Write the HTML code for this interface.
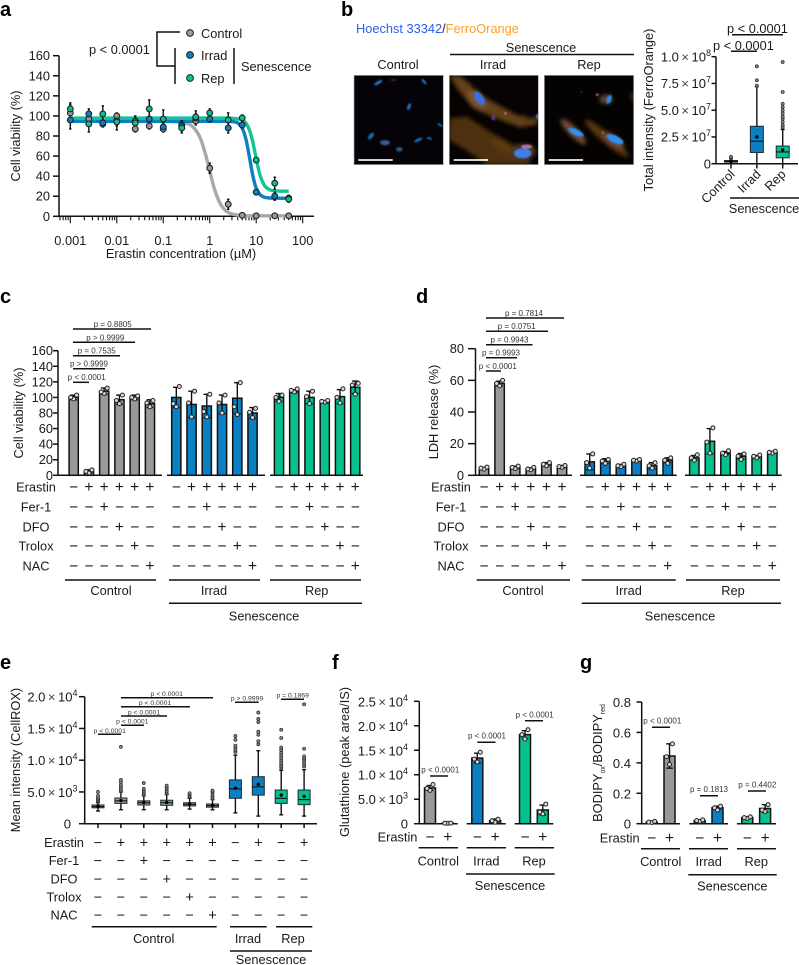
<!DOCTYPE html>
<html lang="en">
<head>
<meta charset="utf-8">
<title>Senescence ferroptosis figure</title>
<style>
html,body{margin:0;padding:0;background:#fff;}
svg{display:block;font-family:"Liberation Sans",Arial,sans-serif;}
text{fill:#1a1a1a;font-size:12.8px;}
.m{text-anchor:middle;}
.p{font-size:8px;fill:#333;text-anchor:middle;}
.pe{font-size:6.8px;fill:#333;text-anchor:middle;}
.L{font-size:20px;font-weight:bold;fill:#000;}
.ax{stroke:#111;stroke-width:1.5;fill:none;}
</style>
</head>
<body>
<svg id="fig" width="799" height="965" viewBox="0 0 799 965" xmlns="http://www.w3.org/2000/svg">
<defs>
<filter id="blur2" x="-50%" y="-50%" width="200%" height="200%"><feGaussianBlur stdDeviation="2"/></filter>
<filter id="blur6" x="-50%" y="-50%" width="200%" height="200%"><feGaussianBlur stdDeviation="6"/></filter>
<clipPath id="clipCtl"><rect x="72" y="226" width="268" height="268"/></clipPath>
<clipPath id="clipIrr"><rect x="358" y="226" width="267" height="268"/></clipPath>
<clipPath id="clipRep"><rect x="643" y="226" width="268" height="268"/></clipPath>
</defs>

<!-- panel letters -->
<text class="L" x="0" y="16">a</text>
<text class="L" x="341" y="16">b</text>
<text class="L" x="0" y="303">c</text>
<text class="L" x="416" y="303">d</text>
<text class="L" x="0" y="669">e</text>
<text class="L" x="332" y="669">f</text>
<text class="L" x="580" y="669">g</text>

<!-- PANEL A -->
<g id="panelA">
<text class="m" transform="translate(20,136) rotate(-90)">Cell viability (%)</text>
<text class="m" x="181" y="258">Erastin concentration (µM)</text>
<text x="89" y="54">p &lt; 0.0001</text>
<g>
<path class="ax" d="M180 32H157V66H175M175 48V84"/>
<circle cx="190" cy="33" r="3.4" fill="#999" stroke="#222"/>
<circle cx="190" cy="55" r="3.4" fill="#0a7fc2" stroke="#222"/>
<circle cx="190" cy="78" r="3.4" fill="#06c08f" stroke="#222"/>
<text x="201" y="38">Control</text>
<text x="201" y="60">Irrad</text>
<text x="201" y="83">Rep</text>
<line class="ax" x1="234" y1="48" x2="234" y2="84"/>
<text x="241" y="71">Senescence</text>
</g>
</g>

<!-- PANEL B IMAGES -->
<g id="panelBImages">
<text x="356" y="33"><tspan style="fill:#2d5cf0">Hoechst 33342</tspan><tspan style="fill:#222">/</tspan><tspan style="fill:#f8a02c">FerroOrange</tspan></text>
<text class="m" x="541" y="52">Senescence</text>
<line class="ax" x1="450" y1="54.5" x2="634" y2="54.5"/>
<text class="m" x="398" y="69">Control</text>
<text class="m" x="493" y="69">Irrad</text>
<text class="m" x="589" y="69">Rep</text>
<g transform="translate(330,0) scale(0.33333)">
<g clip-path="url(#clipCtl)">
<rect x="72" y="226" width="268" height="268" fill="#050308"/>
<g filter="url(#blur2)" opacity="0.85">
<ellipse cx="145" cy="248" rx="14" ry="5" fill="#2f80d8" transform="rotate(-30 145 248)"/>
<ellipse cx="282" cy="245" rx="11" ry="4" fill="#2f80d8" transform="rotate(50 282 245)"/>
<ellipse cx="237" cy="320" rx="11" ry="5" fill="#1f88e8" transform="rotate(-70 237 320)"/>
<ellipse cx="330" cy="375" rx="9" ry="3" fill="#1f88e8" transform="rotate(30 330 375)"/>
<ellipse cx="123" cy="408" rx="12" ry="6" fill="#1f80d8" transform="rotate(-50 123 408)"/>
<ellipse cx="165" cy="428" rx="15" ry="8" fill="#4a66a8"/>
<ellipse cx="265" cy="420" rx="14" ry="4" fill="#1f88e8" transform="rotate(-25 265 420)"/>
<ellipse cx="298" cy="415" rx="9" ry="3" fill="#1f88e8" transform="rotate(20 298 415)"/>
<ellipse cx="208" cy="448" rx="10" ry="7" fill="#2f66a0"/>
<ellipse cx="190" cy="240" rx="8" ry="3" fill="#5a2a4a"/>
</g>
</g>
<g clip-path="url(#clipIrr)">
<rect x="358" y="226" width="267" height="268" fill="#060302"/>
<g filter="url(#blur6)" opacity="0.72">
<path d="M358 228L392 228L470 295L560 345L620 355L625 372L570 382L500 355L430 325L385 270Z" fill="#8a5a22"/>
<path d="M358 355L410 350L480 395L550 435L600 480L600 494L470 494L400 445L358 420Z" fill="#6a4414"/>
<ellipse cx="440" cy="300" rx="36" ry="18" fill="#a87444" transform="rotate(45 440 300)"/>
<ellipse cx="520" cy="440" rx="40" ry="14" fill="#7e5218" transform="rotate(30 520 440)"/>
<ellipse cx="600" cy="350" rx="16" ry="10" fill="#140a08"/>
<ellipse cx="580" cy="455" rx="38" ry="24" fill="#6a4a30"/>
</g>
<g filter="url(#blur2)">
<ellipse cx="448" cy="295" rx="23" ry="12" fill="#3a70e8" transform="rotate(55 448 295)"/>
<ellipse cx="578" cy="460" rx="26" ry="15" fill="#3a80e8"/>
<ellipse cx="590" cy="440" rx="17" ry="6" fill="#b078a8"/>
<ellipse cx="490" cy="352" rx="6" ry="9" fill="#5a3a80"/>
<ellipse cx="622" cy="350" rx="4" ry="8" fill="#3a80e8"/>
<circle cx="432" cy="262" r="4" fill="#1a0d08"/>
<circle cx="526" cy="340" r="3" fill="#e8b090"/>
</g>
</g>
<g clip-path="url(#clipRep)">
<rect x="643" y="226" width="268" height="268" fill="#050302"/>
<g filter="url(#blur6)" opacity="0.72">
<ellipse cx="730" cy="395" rx="52" ry="14" fill="#a06a50" transform="rotate(45 730 395)"/>
<ellipse cx="830" cy="415" rx="85" ry="15" fill="#7a4c18" transform="rotate(40 830 415)"/>
<ellipse cx="850" cy="420" rx="38" ry="14" fill="#a06a50" transform="rotate(35 850 420)"/>
<ellipse cx="828" cy="298" rx="20" ry="14" fill="#8a5a50"/>
<ellipse cx="908" cy="290" rx="6" ry="14" fill="#6a4020"/>
</g>
<g filter="url(#blur2)">
<ellipse cx="738" cy="397" rx="25" ry="9" fill="#2f90f0" transform="rotate(25 738 397)"/>
<ellipse cx="855" cy="418" rx="27" ry="11" fill="#2f90f0" transform="rotate(25 855 418)"/>
<ellipse cx="837" cy="298" rx="14" ry="7" fill="#2f88e8" transform="rotate(-70 837 298)"/>
<circle cx="802" cy="284" r="4" fill="#b070a0"/>
<circle cx="818" cy="398" r="3" fill="#e07a20"/>
<circle cx="755" cy="275" r="2" fill="#a06080"/>
</g>
</g>
<rect x="72" y="226" width="268" height="268" fill="none" stroke="#b0b0b0" stroke-width="2"/>
<rect x="358" y="226" width="267" height="268" fill="none" stroke="#b0b0b0" stroke-width="2"/>
<rect x="643" y="226" width="268" height="268" fill="none" stroke="#b0b0b0" stroke-width="2"/>
<rect x="85" y="477.5" width="103" height="5" fill="#fff"/>
<rect x="371" y="477.5" width="103" height="5" fill="#fff"/>
<rect x="656" y="477.5" width="103" height="5" fill="#fff"/>
</g>
</g>

<!-- PANEL B BOX -->
<g id="panelB">
<text class="m" transform="translate(653,110) rotate(-90)">Total intensity (FerroOrange)</text>
<text x="727" y="33">p &lt; 0.0001</text>
<line class="ax" x1="732" y1="34.7" x2="783" y2="34.7"/>
<text x="713" y="50">p &lt; 0.0001</text>
<line class="ax" x1="731" y1="51.3" x2="757" y2="51.3"/>
<text text-anchor="end" transform="translate(735.5,175) rotate(-45)">Control</text>
<text text-anchor="end" transform="translate(761.5,175) rotate(-45)">Irrad</text>
<text text-anchor="end" transform="translate(786.5,175) rotate(-45)">Rep</text>
<line class="ax" x1="730" y1="198" x2="799" y2="198"/>
<text class="m" x="764" y="213">Senescence</text>
</g>

<!-- PANEL C -->
<g id="panelC">
<text class="m" transform="translate(23,413) rotate(-90)">Cell viability (%)</text>
<g>
<text class="p" x="86.7" y="380">p &lt; 0.0001</text><line class="ax" x1="73" y1="382.3" x2="89" y2="382.3"/>
<text class="p" x="89" y="366.7">p &gt; 0.9999</text><line class="ax" x1="73" y1="368.7" x2="105" y2="368.7"/>
<text class="p" x="96.7" y="353.5">p = 0.7535</text><line class="ax" x1="73" y1="355.7" x2="120" y2="355.7"/>
<text class="p" x="105.3" y="340.5">p &gt; 0.9999</text><line class="ax" x1="73" y1="342.3" x2="135" y2="342.3"/>
<text class="p" x="112.7" y="327">p = 0.8805</text><line class="ax" x1="73" y1="329" x2="151" y2="329"/>
</g>
<g>
<text class="m" x="36" y="491.5">Erastin</text>
<text class="m" x="36" y="511.5">Fer-1</text>
<text class="m" x="36" y="531.5">DFO</text>
<text class="m" x="36" y="550.5">Trolox</text>
<text class="m" x="36" y="570.5">NAC</text>
</g>
<g class="ax">
<line x1="65" y1="580" x2="156" y2="580"/>
<line x1="169" y1="580" x2="260" y2="580"/>
<line x1="270" y1="580" x2="361" y2="580"/>
<line x1="169" y1="603.3" x2="362" y2="603.3"/>
</g>
<text class="m" x="111" y="595">Control</text>
<text class="m" x="214" y="595">Irrad</text>
<text class="m" x="316.7" y="595">Rep</text>
<text class="m" x="264" y="620.7">Senescence</text>
</g>

<!-- PANEL D -->
<g id="panelD">
<text class="m" transform="translate(438,412) rotate(-90)">LDH release (%)</text>
<g>
<text class="p" x="497.8" y="369">p &lt; 0.0001</text><line class="ax" x1="486" y1="371" x2="501" y2="371"/>
<text class="p" x="501" y="355.5">p = 0.9993</text><line class="ax" x1="486" y1="357.7" x2="517" y2="357.7"/>
<text class="p" x="509.5" y="342.5">p = 0.9943</text><line class="ax" x1="486" y1="344.7" x2="532.5" y2="344.7"/>
<text class="p" x="516.7" y="329">p = 0.0751</text><line class="ax" x1="486" y1="331.3" x2="548" y2="331.3"/>
<text class="p" x="524" y="316">p = 0.7814</text><line class="ax" x1="486" y1="318" x2="564" y2="318"/>
</g>
<g>
<text class="m" x="451" y="491.5">Erastin</text>
<text class="m" x="451" y="511.5">Fer-1</text>
<text class="m" x="451" y="531.5">DFO</text>
<text class="m" x="451" y="550.5">Trolox</text>
<text class="m" x="451" y="570.5">NAC</text>
</g>
<g class="ax">
<line x1="476.7" y1="580" x2="570" y2="580"/>
<line x1="581.7" y1="580" x2="675.7" y2="580"/>
<line x1="686" y1="580" x2="780" y2="580"/>
<line x1="581.7" y1="603.3" x2="781" y2="603.3"/>
</g>
<text class="m" x="523" y="595">Control</text>
<text class="m" x="628.7" y="595">Irrad</text>
<text class="m" x="733" y="595">Rep</text>
<text class="m" x="680" y="620.7">Senescence</text>
</g>

<!-- PANEL E -->
<g id="panelE">
<text class="m" transform="translate(20,760) rotate(-90)">Mean intensity (CellROX)</text>
<g>
<text class="pe" x="109.7" y="733">p &lt; 0.0001</text><line class="ax" x1="98" y1="734.3" x2="121" y2="734.3"/>
<text class="pe" x="132.3" y="723.7">p &lt; 0.0001</text><line class="ax" x1="121" y1="725.3" x2="144" y2="725.3"/>
<text class="pe" x="144" y="714.4">p &lt; 0.0001</text><line class="ax" x1="121" y1="716" x2="167" y2="716"/>
<text class="pe" x="155" y="705">p &lt; 0.0001</text><line class="ax" x1="121" y1="706.7" x2="190" y2="706.7"/>
<text class="pe" x="166.7" y="696">p &lt; 0.0001</text><line class="ax" x1="121" y1="697.7" x2="213" y2="697.7"/>
<text class="pe" x="247" y="700.5">p &gt; 0.9999</text><line class="ax" x1="235" y1="702.3" x2="258.7" y2="702.3"/>
<text class="pe" x="292.7" y="697.5">p = 0.1869</text><line class="ax" x1="281" y1="699.3" x2="304" y2="699.3"/>
</g>
<g>
<text class="m" x="64" y="847">Erastin</text>
<text class="m" x="64" y="865">Fer-1</text>
<text class="m" x="64" y="883.5">DFO</text>
<text class="m" x="64" y="901.5">Trolox</text>
<text class="m" x="64" y="919.5">NAC</text>
</g>
<g class="ax">
<line x1="91.7" y1="926.7" x2="216.7" y2="926.7"/>
<line x1="230" y1="926.7" x2="266.7" y2="926.7"/>
<line x1="276" y1="926.7" x2="312.3" y2="926.7"/>
<line x1="230" y1="951" x2="312" y2="951"/>
</g>
<text class="m" x="153.7" y="943">Control</text>
<text class="m" x="248" y="943">Irrad</text>
<text class="m" x="293" y="943">Rep</text>
<text class="m" x="271" y="964">Senescence</text>
</g>

<!-- PANEL F -->
<g id="panelF">
<text class="m" transform="translate(349,762) rotate(-90)">Glutathione (peak area/IS)</text>
<g>
<text class="p" x="440.3" y="772.7">p &lt; 0.0001</text><line class="ax" x1="430" y1="776" x2="448" y2="776"/>
<text class="p" x="487" y="738.7">p &lt; 0.0001</text><line class="ax" x1="477.3" y1="742.3" x2="495.5" y2="742.3"/>
<text class="p" x="534.7" y="717.3">p &lt; 0.0001</text><line class="ax" x1="525" y1="720.7" x2="543" y2="720.7"/>
</g>
<text class="m" x="397.5" y="841.5">Erastin</text>
<g class="ax">
<line x1="418.7" y1="847.7" x2="458" y2="847.7"/>
<line x1="466.7" y1="847.7" x2="506" y2="847.7"/>
<line x1="514.7" y1="847.7" x2="554" y2="847.7"/>
<line x1="466" y1="874" x2="554.7" y2="874"/>
</g>
<text class="m" x="438.3" y="865.3">Control</text>
<text class="m" x="486.3" y="865.3">Irrad</text>
<text class="m" x="534" y="865.3">Rep</text>
<text class="m" x="510" y="890">Senescence</text>
</g>

<!-- PANEL G -->
<g id="panelG">
<text class="m" transform="translate(602,763) rotate(-90)">BODIPY<tspan dy="3" style="font-size:7px">ox</tspan><tspan dy="-3">/BODIPY</tspan><tspan dy="3" style="font-size:7px">red</tspan></text>
<g>
<text class="p" x="662.3" y="723.7">p &lt; 0.0001</text><line class="ax" x1="652" y1="727.3" x2="670" y2="727.3"/>
<text class="p" x="709" y="792">p = 0.1813</text><line class="ax" x1="700" y1="795.7" x2="718" y2="795.7"/>
<text class="p" x="757.3" y="787.3">p = 0.4402</text><line class="ax" x1="748" y1="791" x2="766" y2="791"/>
</g>
<text class="m" x="619.7" y="842.5">Erastin</text>
<g class="ax">
<line x1="641" y1="848.7" x2="680" y2="848.7"/>
<line x1="689" y1="848.7" x2="728" y2="848.7"/>
<line x1="737" y1="848.7" x2="776" y2="848.7"/>
<line x1="688.3" y1="874.7" x2="776.7" y2="874.7"/>
</g>
<text class="m" x="660.7" y="866">Control</text>
<text class="m" x="708.7" y="866">Irrad</text>
<text class="m" x="756.3" y="866">Rep</text>
<text class="m" x="732.3" y="890.7">Senescence</text>
</g>
</svg>

<script>
/* ===== PANEL A DATA ===== */
const aConc = [0.001,0.0025,0.005,0.01,0.025,0.05,0.1,0.25,0.5,1,2.5,5,10,25,50];
const aControl = [103,97,92,100,87,90,87,91,95,48,12,1,0.5,0.5,0.5];
const aIrrad = [96,102,93,95,95,97,89,90,98,97,88,91,24,20,18];
const aRep = [107,92,102,94,93,107,97,88,99,103,96,98,56,33,17];
const aControlErr = [8,5,3,3,3,3,3,4,4,5,5,1,1,1,1];
const aIrradErr = [9,5,3,5,3,8,4,5,4,3,5,3,2,4,3];
const aRepErr = [6,8,8,8,7,9,9,5,6,4,7,3,2,6,3];
const aCurveConc = [0.001,0.1,0.25,0.4,0.6,0.8,1,1.25,1.6,2,2.5,3,4,5,6,7,8,9,10,12,15,20,30,50];
const aCurveControl = [94.5,94.5,93.3,90.5,79.7,62.7,45,27.9,14.5,7.5,3.8,2.3,1.2,0.8,0.6,0.5,0.5,0.5,0.5,0.5,0.5,0.5,0.5,0.5];
const aCurveIrrad = [94.6,94.6,94.6,94.6,94.6,94.6,94.6,94.6,94.6,94.6,94.6,94.4,93,87.8,76.9,61.3,46.2,35,28,21.7,19,18.2,18,18];
const aCurveRep = [97.8,97.8,97.8,97.8,97.8,97.8,97.8,97.8,97.8,97.8,97.8,97.7,97,96,92.9,87,78.4,67.9,57.5,41.5,30.8,26.3,25.1,25];
const aYTicks = [0,20,40,60,80,100,120,140,160];
const aXTicks = [0.001,0.01,0.1,1,10,100];
const aXTickLabels = ['0.001','0.01','0.1','1','10','100'];

/* ===== PANEL B DATA ===== */
const bQ1 = [0.15e7,1.05e7,0.55e7];
const bMedian = [0.2e7,2.1e7,1.1e7];
const bQ3 = [0.3e7,3.5e7,1.65e7];
const bLow = [0,0,0];
const bHigh = [0.45e7,7.2e7,3.2e7];
const bMean = [0.2e7,2.5e7,1.3e7];
const bOutliers = [[0.55e7,0.65e7],[7.3e7,7.8e7,9.1e7],[3.4e7,3.6e7,3.9e7,4.2e7,4.4e7,4.7e7,5e7,5.3e7,5.6e7,6.7e7,9.5e7]];
const bYTicks = [0,2.5e7,5e7,7.5e7,1e8];
const bYMant = ['0','2.5','5.0','7.5','1.0'];
const bYExp = ['','7','7','7','8'];

/* ===== PANEL C DATA ===== */
const cYTicks = [0,20,40,60,80,100,120,140,160];
const cMeans = [[100,5,108,97,100,92],[100,91,89,91,99,80],[100,108,100,94,101,113]];
const cErrs = [[3,2,4,6,3,5],[13,17,15,12,20,7],[5,2,8,1,9,8]];
const cReps = [
 [[98,100,103],[3,5,7],[105,107,112],[92,96,103],[98,100,102],[88,93,96]],
 [[88,92,114],[75,93,108],[75,82,104],[80,93,103],[78,88,119],[74,81,86]],
 [[95,100,103],[107,109,111],[92,101,108],[94,95,96],[93,100,111],[104,116,118]]
];

/* ===== PANEL D DATA ===== */
const dYTicks = [0,20,40,60,80];
const dMeans = [[4.5,58,5,4.2,7,5.5],[8.5,9,6,9.5,6,9.5],[11,21.5,14,12,11.8,14.5]];
const dErrs = [[0.5,1.5,0.8,0.6,1,0.7],[5,1.5,0.9,0.5,2,1.5],[1.5,8,1,1.8,0.7,0.5]];
const dReps = [
 [[3.8,4.5,5.2],[56.5,58,60],[4.2,5,5.8],[3.5,4,5],[6,7,8],[5,5.5,6.2]],
 [[4.5,8,13.5],[7.5,9,10],[5.5,6,7],[9,9.5,10],[4.5,6,8],[7.5,9.5,11]],
 [[9.5,11,13],[14,21,30],[13,14,15.5],[10,12,13.5],[11,12,12.8],[14,14.5,15.2]]
];
const treatmentRows = ['-+++++','--+---','---+--','----+-','-----+'];

/* ===== PANEL E DATA ===== */
const eQ1 = [2500,3200,2950,2900,2800,2600,4000,4500,3200,3000];
const eMedian = [2700,3600,3300,3300,3050,2850,5500,5800,4000,3800];
const eQ3 = [2950,4050,3600,3700,3300,3100,6900,7400,5300,5300];
const eLow = [2000,2200,2200,2200,2300,2200,1700,1200,1400,1200];
const eHigh = [3300,5000,4400,4600,4000,3800,10800,11500,8400,8500];
const eMean = [2750,3650,3350,3350,3100,2900,5600,6200,4500,4300];
const eOutliers = [
 [3500,3700,3900,4100,4400,5000],
 [5200,5500,5800,6100,6500,6900,12100],
 [4600,4900,5200,5500,6400],
 [4800,5100,5400,5700,6000],
 [4200,4400,4600,4800],
 [4000,4300,4600,5000,5200],
 [11300,11600,12000,12300,13200,13800],
 [12500,13000,14000,14500,16000,16500,17500],
 [8800,9000,9300,9600,10000,10400,10800,11200,11600,12000,13500,14800],
 [9000,9300,9600,10000,10300,10600,11800,18800]
];
const eSeriesOfBox = [0,0,0,0,0,0,1,1,2,2];
const eYTicks = [0,5000,10000,15000,20000];
const eYMant = ['0','5.0','1.0','1.5','2.0'];
const eYExp = ['','3','4','4','4'];
const eRows = ['-+++++-+-+','--+-------','---+------','----+-----','-----+----'];

/* ===== PANEL F DATA ===== */
const fMeans = [[7300,100],[13400,600],[18200,2800]];
const fErrs = [[500,100],[1000,350],[800,1000]];
const fReps = [[[6800,7200,8000],[80,100,120]],[[12600,13200,14600],[300,600,900]],[[17300,18200,19200],[2000,2400,4000]]];
const fYTicks = [0,5000,10000,15000,20000,25000];
const fYMant = ['0','5.0','1.0','1.5','2.0','2.5'];
const fYExp = ['','3','4','4','4','4'];

/* ===== PANEL G DATA ===== */
const gMeans = [[0.01,0.445],[0.02,0.105],[0.04,0.10]];
const gErrs = [[0.005,0.08],[0.005,0.01],[0.005,0.025]];
const gReps = [[[0.008,0.01,0.015],[0.39,0.44,0.525]],[[0.015,0.02,0.025],[0.09,0.105,0.115]],[[0.035,0.04,0.045],[0.08,0.09,0.125]]];
const gYTicks = [0,0.2,0.4,0.6,0.8];

/* ===== STYLE ===== */
const seriesColors = ['#999999','#0a7fc2','#06c08f'];
const curveColors = ['#a8a8a8','#0a7fc2','#12c496'];
const INK = '#111';

/* ===== HELPERS ===== */
const NS = 'http://www.w3.org/2000/svg';
const layer = id => document.getElementById(id);
function mk(parent, tagName, attrs) {
  const el = document.createElementNS(NS, tagName);
  for (const k in attrs) el.setAttribute(k, attrs[k]);
  parent.appendChild(el);
  return el;
}
function tag(el, name) {
  
  
  return el;
}
function seg(parent, x1, y1, x2, y2, name, sw) {
  return tag(mk(parent, 'line', {x1, y1, x2, y2, stroke: INK, 'stroke-width': sw || 1.5}), name);
}
function label(parent, x, y, s, anchor, name, size) {
  const t = mk(parent, 'text', {x, y, 'text-anchor': anchor || 'middle'});
  if (size) t.style.fontSize = size + 'px';
  t.textContent = s;
  return tag(t, name);
}
function sci(parent, xRight, y, mant, exp, size, name) {
  const t = mk(parent, 'text', {x: xRight, y: y, 'text-anchor': 'end'});
  t.style.fontSize = size + 'px';
  if (exp === '') { t.textContent = mant; return tag(t, name); }
  const a = mk(t, 'tspan', {}); a.textContent = mant;
  const b = mk(t, 'tspan', {dx: 2.5}); b.textContent = '×'; b.style.fill = '#444';
  const c = mk(t, 'tspan', {dx: 2.5}); c.textContent = '10';
  const d = mk(t, 'tspan', {dy: -5.5}); d.textContent = exp; d.style.fontSize = '9px';
  return tag(t, name);
}
function linear(d0, d1, r0, r1) { return v => r0 + (v - d0) * (r1 - r0) / (d1 - d0); }
function smoothPath(pts) {
  let d = 'M' + pts[0][0].toFixed(2) + ' ' + pts[0][1].toFixed(2);
  for (let i = 0; i < pts.length - 1; i++) {
    const p0 = pts[Math.max(0, i - 1)], p1 = pts[i], p2 = pts[i + 1], p3 = pts[Math.min(pts.length - 1, i + 2)];
    const c1x = p1[0] + (p2[0] - p0[0]) / 6, c1y = p1[1] + (p2[1] - p0[1]) / 6;
    const c2x = p2[0] - (p3[0] - p1[0]) / 6, c2y = p2[1] - (p3[1] - p1[1]) / 6;
    d += 'C' + [c1x, c1y, c2x, c2y, p2[0], p2[1]].map(n => n.toFixed(2)).join(' ');
  }
  return d;
}
function errBar(g, x, yTop, yBottom, cap) {
  seg(g, x, yTop, x, yBottom, 'error-bar', 1.4);
  seg(g, x - cap, yTop, x + cap, yTop, 'error-cap', 1.4);
  seg(g, x - cap, yBottom, x + cap, yBottom, 'error-cap', 1.4);
}
function bar(g, x, w, mean, err, reps, color, y) {
  const r = mk(g, 'rect', {x: x - w / 2, y: y(mean), width: w, height: Math.max(0, y(0) - y(mean)), fill: color, stroke: INK, 'stroke-width': 1.5});
  tag(r, 'bar');
  errBar(g, x, y(mean + err), y(Math.max(0, mean - err)), 3.3);
  const jitter = [0, -3, 3];
  reps.forEach((v, i) => {
    const c = mk(g, 'circle', {cx: x + jitter[i], cy: y(v), r: 2, fill: '#dcdcdc', stroke: '#222', 'stroke-width': 1});
    tag(c, 'replicate-point');
  });
}
function box(g, x, w, q1, med, q3, lo, hi, mean, outs, color, y) {
  seg(g, x, y(hi), x, y(lo), 'whisker', 1.4);
  seg(g, x - 2, y(hi), x + 2, y(hi), 'whisker-cap', 1.4);
  seg(g, x - 2, y(lo), x + 2, y(lo), 'whisker-cap', 1.4);
  const r = mk(g, 'rect', {x: x - w / 2, y: y(q3), width: w, height: y(q1) - y(q3), fill: color, stroke: '#1a2a33', 'stroke-width': 1});
  tag(r, 'box');
  seg(g, x - w / 2, y(med), x + w / 2, y(med), 'box-median', 1.1);
  outs.forEach(v => {
    const c = mk(g, 'circle', {cx: x, cy: y(v), r: 1.5, fill: '#8a8a8a', stroke: '#333', 'stroke-width': 0.8});
    tag(c, 'outlier');
  });
  const m = mk(g, 'circle', {cx: x, cy: y(mean), r: 1.7, fill: '#000'});
  tag(m, 'box-mean');
}
function signs(g, row, xs, y, size) {
  const sz = size || 15.5;
  row.split('').forEach((s, i) => {
    label(g, xs[i], y + (sz - 13.5) * 0.34, s === '+' ? '+' : '\u2212', 'middle', s === '+' ? 'plus-sign' : 'minus-sign', sz);
  });
}

/* ===== PANEL A ===== */
(function () {
  const g = layer('panelA');
  const y = linear(0, 160, 216.3, 55.7);
  const x = linear(-3, 2, 70.3, 302.7);
  const lx = v => x(Math.log10(v));
  seg(g, 59, 55.7, 59, 217, 'y-axis-a');
  seg(g, 59, 216.3, 314, 216.3, 'x-axis-a');
  aYTicks.forEach(v => {
    seg(g, 53, y(v), 59, y(v), 'y-tick-a');
    label(g, 50, y(v) + 4.5, String(v), 'end', 'y-tick-label-a', 12.8);
  });
  for (let e = -4; e <= 2; e++) {
    for (let k = 1; k <= 9; k++) {
      const px = x(e + Math.log10(k));
      if (px < 59 || px > 314) continue;
      seg(g, px, 216.3, px, 216.3 + (k === 1 ? 7 : 4), k === 1 ? 'x-major-tick-a' : 'x-minor-tick-a', 1.1);
    }
  }
  aXTicks.forEach((v, i) => label(g, lx(v), 245, aXTickLabels[i], 'middle', 'x-tick-label-a', 12.8));
  [aCurveControl, aCurveIrrad, aCurveRep].forEach((s, si) => {
    const pts = aCurveConc.map((c, i) => [lx(c), y(s[i])]);
    const p = mk(g, 'path', {d: smoothPath(pts), fill: 'none', stroke: curveColors[si], 'stroke-width': 3.4});
    tag(p, 'fit-curve-' + ['control', 'irrad', 'rep'][si]);
  });
  [[aControl, aControlErr], [aIrrad, aIrradErr], [aRep, aRepErr]].forEach(pair => {
    pair[0].forEach((v, i) => {
      errBar(g, lx(aConc[i]), y(v + pair[1][i]), y(Math.max(0, v - pair[1][i])), 1.2);
    });
  });
  [[aControl, 0], [aIrrad, 1], [aRep, 2]].forEach(pair => {
    pair[0].forEach((v, i) => {
      const c = mk(g, 'circle', {cx: lx(aConc[i]), cy: y(v), r: 2.9, fill: seriesColors[pair[1]], stroke: '#222', 'stroke-width': 1.1});
      tag(c, 'point-' + ['control', 'irrad', 'rep'][pair[1]]);
    });
  });
})();

/* ===== PANEL B ===== */
(function () {
  const g = layer('panelB');
  const y = linear(0, 1e8, 163.7, 56.7);
  const x0 = 731, step = 25.85;
  seg(g, 716, 56.7, 716, 164.4, 'y-axis-b');
  seg(g, 716, 163.7, 798, 163.7, 'x-axis-b');
  bYTicks.forEach((v, i) => {
    seg(g, 711.5, y(v), 716, y(v), 'y-tick-b');
    sci(g, 711, y(v) + 4.7, bYMant[i], bYExp[i], 13, 'y-tick-label-b');
  });
  bQ1.forEach((q, i) => {
    const x = x0 + i * step;
    seg(g, x, 163.7, x, 168.5, 'x-tick-b');
    box(g, x, 13, q, bMedian[i], bQ3[i], bLow[i], bHigh[i], bMean[i], bOutliers[i], seriesColors[i], y);
  });
})();

/* ===== BAR PANELS C & D ===== */
(function () {
  const g = layer('panelC');
  const y = linear(0, 160, 475.3, 350.7);
  const starts = [73.7, 176.3, 279], step = 15.25;
  const axes = [[58, 162], [167, 265], [270, 363]];
  seg(g, 58, 350.7, 58, 476, 'y-axis-c');
  cYTicks.forEach(v => {
    seg(g, 53, y(v), 58, y(v), 'y-tick-c');
    label(g, 53, y(v) + 4.5, String(v), 'end', 'y-tick-label-c', 12.8);
  });
  const rowsY = [491.5, 511.5, 531.5, 550.5, 570.5];
  axes.forEach(a => seg(g, a[0], 475.3, a[1], 475.3, 'x-axis-segment-c'));
  cMeans.forEach((means, s) => {
    const xs = means.map((_, i) => starts[s] + i * step);
    means.forEach((m, i) => bar(g, xs[i], 9.2, m, cErrs[s][i], cReps[s][i], seriesColors[s], y));
    treatmentRows.forEach((r, ri) => signs(g, r, xs, rowsY[ri]));
  });
})();
(function () {
  const g = layer('panelD');
  const y = linear(0, 80, 475.3, 348.7);
  const starts = [484, 589.7, 694.3], step = 15.6;
  const axes = [[475.5, 572], [580, 676.7], [685, 781.7]];
  seg(g, 475.5, 348.7, 475.5, 476, 'y-axis-d');
  dYTicks.forEach(v => {
    seg(g, 468, y(v), 475.5, y(v), 'y-tick-d');
    label(g, 464, y(v) + 4.5, String(v), 'end', 'y-tick-label-d', 12.8);
  });
  const rowsY = [491.5, 511.5, 531.5, 550.5, 570.5];
  axes.forEach(a => seg(g, a[0], 475.3, a[1], 475.3, 'x-axis-segment-d'));
  dMeans.forEach((means, s) => {
    const xs = means.map((_, i) => starts[s] + i * step);
    means.forEach((m, i) => bar(g, xs[i], 9.4, m, dErrs[s][i], dReps[s][i], seriesColors[s], y));
    treatmentRows.forEach((r, ri) => signs(g, r, xs, rowsY[ri]));
  });
})();

/* ===== PANEL E ===== */
(function () {
  const g = layer('panelE');
  const y = linear(0, 20000, 823.7, 696.7);
  const x0 = 98, step = 22.9;
  seg(g, 84.7, 696.7, 84.7, 824.4, 'y-axis-e');
  seg(g, 84.7, 823.7, 317, 823.7, 'x-axis-e');
  eYTicks.forEach((v, i) => {
    seg(g, 79, y(v), 84.7, y(v), 'y-tick-e');
    sci(g, i === 0 ? 71 : 77.5, y(v) + 5, eYMant[i], eYExp[i], 13, 'y-tick-label-e');
  });
  const xs = eQ1.map((_, i) => x0 + i * step);
  eQ1.forEach((q, i) => {
    seg(g, xs[i], 823.7, xs[i], 828, 'x-tick-e');
    box(g, xs[i], 12, q, eMedian[i], eQ3[i], eLow[i], eHigh[i], eMean[i], eOutliers[i], seriesColors[eSeriesOfBox[i]], y);
  });
  const rowsY = [847, 865, 883.5, 901.5, 919.5];
  eRows.forEach((r, ri) => signs(g, r, xs, rowsY[ri], 14.5));
})();

/* ===== PANEL F ===== */
(function () {
  const g = layer('panelF');
  const y = linear(0, 25000, 823.7, 701.3);
  const starts = [430, 477.3, 525], step = 17.8;
  const axes = [[419.3, 457.7], [466.7, 505.7], [514.7, 553.3]];
  seg(g, 419.3, 701.3, 419.3, 824.4, 'y-axis-f');
  fYTicks.forEach((v, i) => {
    seg(g, 414, y(v), 419.3, y(v), 'y-tick-f');
    sci(g, 408, y(v) + 5, fYMant[i], fYExp[i], 13, 'y-tick-label-f');
  });
  axes.forEach(a => seg(g, a[0], 823.7, a[1], 823.7, 'x-axis-segment-f'));
  fMeans.forEach((means, s) => {
    const xs = means.map((_, i) => starts[s] + i * step);
    means.forEach((m, i) => bar(g, xs[i], 11, m, fErrs[s][i], fReps[s][i], seriesColors[s], y));
    signs(g, '-+', xs, 841.5);
  });
})();

/* ===== PANEL G ===== */
(function () {
  const g = layer('panelG');
  const y = linear(0, 0.8, 823.7, 702);
  const starts = [651.7, 699.7, 747.3], step = 17.8;
  const axes = [[641.7, 680], [689.3, 728], [737, 776]];
  seg(g, 641.7, 702, 641.7, 824.4, 'y-axis-g');
  gYTicks.forEach(v => {
    seg(g, 636.5, y(v), 641.7, y(v), 'y-tick-g');
    label(g, 631, y(v) + 5, v === 0 ? '0' : v.toFixed(1), 'end', 'y-tick-label-g', 13);
  });
  axes.forEach(a => seg(g, a[0], 823.7, a[1], 823.7, 'x-axis-segment-g'));
  gMeans.forEach((means, s) => {
    const xs = means.map((_, i) => starts[s] + i * step);
    means.forEach((m, i) => bar(g, xs[i], 11, m, gErrs[s][i], gReps[s][i], seriesColors[s], y));
    signs(g, '-+', xs, 842.5);
  });
})();
</script>
</body>
</html>
